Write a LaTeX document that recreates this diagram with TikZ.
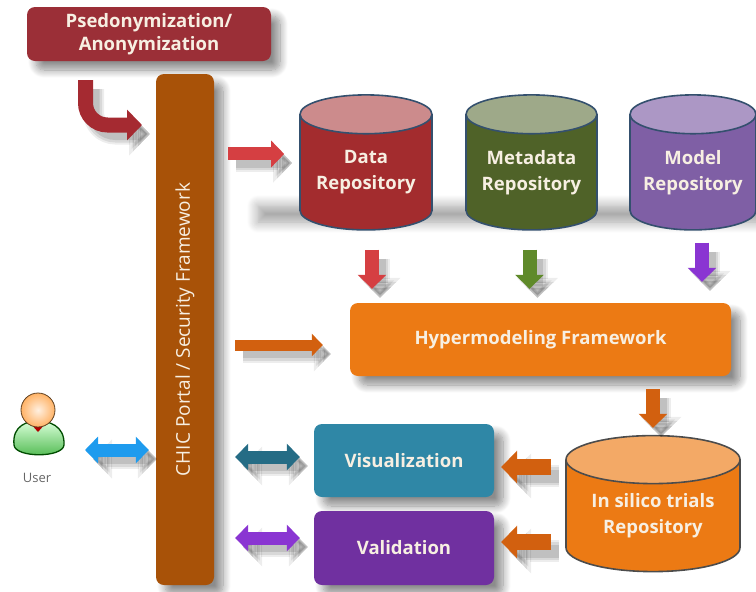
\documentclass[tikz,border=0pt]{standalone}
\usepackage{fontspec}
\setmainfont{Open Sans}
\usetikzlibrary{arrows.meta,shapes.geometric,shadows.blur}
\definecolor{pseudoRed}{HTML}{9B2F37}
\definecolor{portalBrown}{HTML}{A85208}
\definecolor{dataRed}{HTML}{A32C2E}
\definecolor{metaGreen}{HTML}{4F6228}
\definecolor{modelPurple}{HTML}{7F5FA5}
\definecolor{hyperOrange}{HTML}{EC7A14}
\definecolor{arrowOrange}{HTML}{D2600F}
\definecolor{arrowRed}{HTML}{D53F42}
\definecolor{arrowGreen}{HTML}{5F8A2A}
\definecolor{arrowViolet}{HTML}{8A35D2}
\definecolor{arrowBlue}{HTML}{1E9BEE}
\definecolor{visTeal}{HTML}{2F87A6}
\definecolor{validPurple}{HTML}{7030A0}
\definecolor{rimBlue}{HTML}{34506E}
\definecolor{labelCream}{HTML}{F7EFE2}
\tikzset{
    softshadow/.style={blur shadow={shadow xshift=9pt,shadow yshift=-9pt,shadow blur radius=8pt,shadow blur steps=12,shadow opacity=45}},
    panel/.style={rounded corners=8pt,inner sep=0pt,align=center,text=labelCream,font=\bfseries\fontsize{18.5}{23}\selectfont,softshadow},
    repo/.style={cylinder,shape border rotate=90,aspect=.39,inner sep=0pt,cylinder uses custom fill,draw=rimBlue,line width=1.6pt,align=center,text=labelCream,font=\bfseries\fontsize{18.5}{26}\selectfont},
    arrowshade/.style={preaction={draw=black,opacity=.07,line width=#1+6pt,transform canvas={shift={(8pt,-9pt)}}},
        preaction={draw=black,opacity=.09,line width=#1+2pt,transform canvas={shift={(8pt,-9pt)}}},
        preaction={draw=black,opacity=.11,line width=#1-3pt,transform canvas={shift={(8pt,-9pt)}}}},
    flowarrow/.style={line width=#1,-{Triangle[length=0pt 1,width=0pt 2]},arrowshade=#1},
    swaparrow/.style={line width=#1,{Triangle[length=0pt 1,width=0pt 2]}-{Triangle[length=0pt 1,width=0pt 2]},arrowshade=#1}
}
\begin{document}
\begin{tikzpicture}[x=1pt,y=-1pt]
    \useasboundingbox (0,0) rectangle (756,592);
    % Band behind the repositories
    \path[blur shadow={shadow xshift=0pt,shadow yshift=0pt,shadow blur radius=11pt,shadow blur steps=12,shadow opacity=38}] (258,206) rectangle (790,222);

    % Boxes
    \node[panel,fill=pseudoRed,minimum width=244pt,minimum height=54pt] (pseudo) at (149,34) {Psedonymization/\\Anonymization};
    \node[panel,fill=portalBrown,minimum width=58pt,minimum height=511pt] (portal) at (185,329.5) {};
    \node[rotate=90,text=labelCream,font=\fontsize{19}{22}\selectfont] (portalText) at (portal.center) {CHIC Portal / Security Framework};
    \node[panel,fill=hyperOrange,minimum width=381pt,minimum height=73pt] (hyper) at (540.5,339.5) {Hypermodeling Framework};
    \node[panel,fill=visTeal,minimum width=180pt,minimum height=73pt] (vis) at (404,460.5) {Visualization};
    \node[panel,fill=validPurple,minimum width=180pt,minimum height=74pt] (valid) at (404,548) {Validation};

    % Repositories
    \foreach \name/\x/\w/\body/\lid/\label in {data/366/132/dataRed/dataRed!55/Data,meta/531.5/131/metaGreen/metaGreen!55/Metadata,model/693/126/modelPurple/modelPurple!65/Model}
    {
        \node[repo,minimum width=\w pt,minimum height=135pt,cylinder body fill=\body,cylinder end fill=\lid] (\name) at (\x,172.5) {\label\\Repository};
    }
    \node[repo,draw=black!70,minimum width=174pt,minimum height=136pt,cylinder body fill=hyperOrange,cylinder end fill=hyperOrange!65] (silico) at (653,516) {In silico trials\\Repository};

    % User
    \coordinate (userIcon) at (38,450);
    \draw[green!30!black,line width=1.3pt,top color=green!15,bottom color=green!60!black!70] (14,445) .. controls (12,425) and (28,421) .. (38,421) .. controls (48,421) and (65,425) .. (64,445) .. controls (63,458) and (15,458) .. (14,445);
    \fill[red!70!black] (31,424) -- (45,424) -- (38,432) -- cycle;
    \draw[black!50!brown,line width=.8pt,inner color=orange!12,outer color=orange!60] (38,410) circle (17);
    \node[text=black!60,font=\fontsize{13}{15}\selectfont] (user) at (37,478) {User};

    % Arrows
    \coordinate (pseudoTail) at (85.5,80);
    \coordinate (portalIn) at (156,125);
    \draw[flowarrow=15pt,pseudoRed!90!red,rounded corners=22pt,shorten >=14pt] (pseudoTail) |- (portalIn);
    \coordinate (dataIn) at ([yshift=18.5pt]data.west);
    \draw[flowarrow=13pt,arrowRed,shorten <=14pt,shorten >=15pt] (portal.east |- dataIn) -- (dataIn);
    \coordinate (hyperIn) at ([yshift=-5.5pt]hyper.west);
    \draw[flowarrow=11pt,arrowOrange,shorten <=21pt,shorten >=27pt] (portal.east |- hyperIn) -- (hyperIn);
    \foreach \from/\shift/\start/\stop/\col in {data/6/19/14/arrowRed,meta/-2/19/14/arrowGreen,model/9/12/21/arrowViolet}
    {
        \coordinate (\from Out) at ([xshift=\shift pt]\from.south);
        \draw[flowarrow=14pt,\col,shorten <=\start pt,shorten >=\stop pt] (\from Out) -- (\from Out |- hyper.north);
    }
    \draw[flowarrow=14pt,arrowOrange,shorten <=13pt,shorten >=7pt] (silico.north |- hyper.south) -- (silico.north);
    \foreach \to/\shift in {vis/-6.5,valid/6}
    {
        \coordinate (\to In) at ([yshift=\shift pt]\to.east);
        \draw[flowarrow=16pt,arrowOrange,shorten <=14pt,shorten >=7pt] (silico.west |- \to In) -- (\to In);
    }
    \draw[swaparrow=13pt,arrowBlue,shorten <=47pt,shorten >=7pt] (userIcon) -- (portal.west |- userIcon);
    \coordinate (visLink) at ([yshift=3.5pt]vis.west);
    \draw[swaparrow=13pt,visTeal!80!black,shorten <=21pt,shorten >=14pt] (portal.east |- visLink) -- (visLink);
    \coordinate (validLink) at ([yshift=10pt]valid.west);
    \draw[swaparrow=13pt,arrowViolet,shorten <=21pt,shorten >=14pt] (portal.east |- validLink) -- (validLink);
\end{tikzpicture}
\end{document}
